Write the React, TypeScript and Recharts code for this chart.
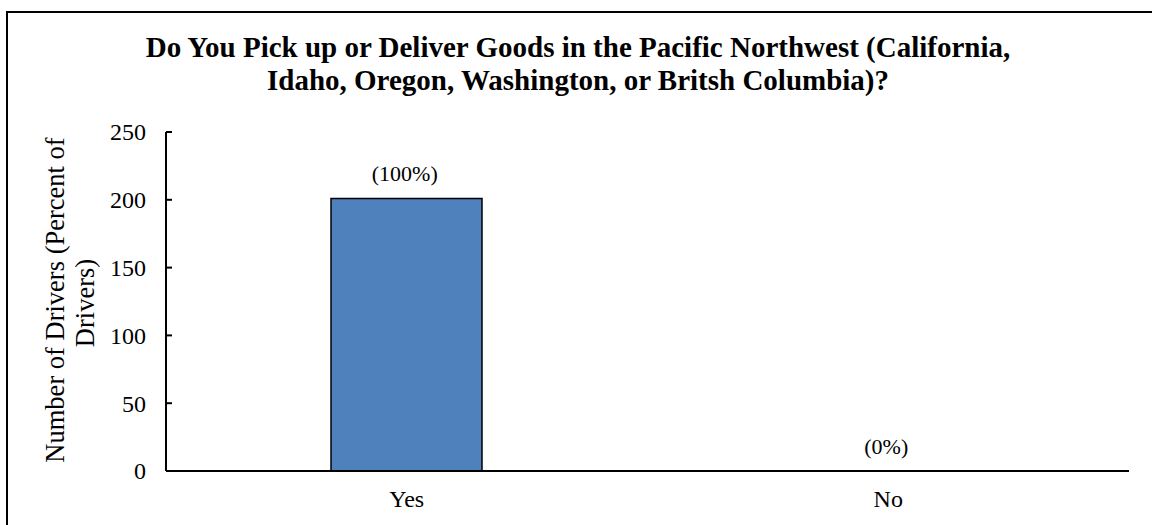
import { ComposedChart, Bar, Line, XAxis, YAxis, LabelList } from 'recharts';

const categories = ['Yes', 'No'];
const drivers = [201, 0];
const percentLabels = ['(100%)', '(0%)'];
const yTicks = [0, 50, 100, 150, 200, 250];

const titleLines = [
  'Do You Pick up or Deliver Goods in the Pacific Northwest (California,',
  'Idaho, Oregon, Washington, or Britsh Columbia)?',
];
const yLabelLines = ['Number of Drivers (Percent of', 'Drivers)'];

const data = categories.map((name, i) => ({ name, value: drivers[i], pct: percentLabels[i] }));

const FONT = "Liberation Serif, Times New Roman, serif";

const YTick = (props: any) => {
  const { x, y, payload } = props;
  return (
    <g>
      <line x1={x + 8} x2={x + 14} y1={y} y2={y} stroke="#000" strokeWidth={2} />
      <text x={x - 12} y={y} dy="0.35em" textAnchor="end" fontFamily={FONT} fontSize={24} fill="#000">
        {payload.value}
      </text>
    </g>
  );
};

const XTick = (props: any) => {
  const { x, y, payload } = props;
  return (
    <text x={x} y={y + 28} textAnchor="middle" fontFamily={FONT} fontSize={24} fill="#000">
      {payload.value}
    </text>
  );
};

const PctLabel = (props: any) => {
  const { x, y, value } = props;
  return (
    <text x={x - 2} y={y - 17.5} textAnchor="middle" fontFamily={FONT} fontSize={22} fill="#000">
      {value}
    </text>
  );
};

export default function App() {
  return (
    <div style={{ position: 'absolute', left: 0, top: 0, width: 1152, height: 525, background: '#fff' }}>
      <ComposedChart
        width={1152}
        height={525}
        data={data}
        margin={{ top: 132, right: 23, bottom: 0, left: 0 }}
        barCategoryGap={0}
      >
        <XAxis
          dataKey="name"
          height={54}
          tickLine={false}
          axisLine={{ stroke: '#000', strokeWidth: 2 }}
          tick={<XTick />}
          interval={0}
        />
        <YAxis
          width={166}
          domain={[0, 250]}
          ticks={yTicks}
          tickLine={false}
          axisLine={{ stroke: '#000', strokeWidth: 2 }}
          tick={<YTick />}
          interval={0}
        />
        <Bar dataKey="value" fill="#4F81BD" stroke="#000" strokeWidth={1.5} barSize={151} isAnimationActive={false} />
        <Line dataKey="value" stroke="none" dot={false} activeDot={false} isAnimationActive={false}>
          <LabelList dataKey="pct" content={<PctLabel />} />
        </Line>
      </ComposedChart>
      <svg
        width={1152}
        height={525}
        style={{ position: 'absolute', left: 0, top: 0, pointerEvents: 'none' }}
      >
        <rect x={7} y={12} width={1200} height={600} fill="none" stroke="#000" strokeWidth={2} />
        {titleLines.map((t, i) => (
          <text key={i} x={578} y={57 + i * 33} textAnchor="middle" fontFamily={FONT} fontSize={29} fontWeight="bold" fill="#000">
            {t}
          </text>
        ))}
        <text transform="translate(64,300) rotate(-90)" textAnchor="middle" fontFamily={FONT} fontSize={26.5} fill="#000">
          {yLabelLines[0]}
        </text>
        <text transform="translate(94,303) rotate(-90)" textAnchor="middle" fontFamily={FONT} fontSize={26.5} fill="#000">
          {yLabelLines[1]}
        </text>
      </svg>
    </div>
  );
}
